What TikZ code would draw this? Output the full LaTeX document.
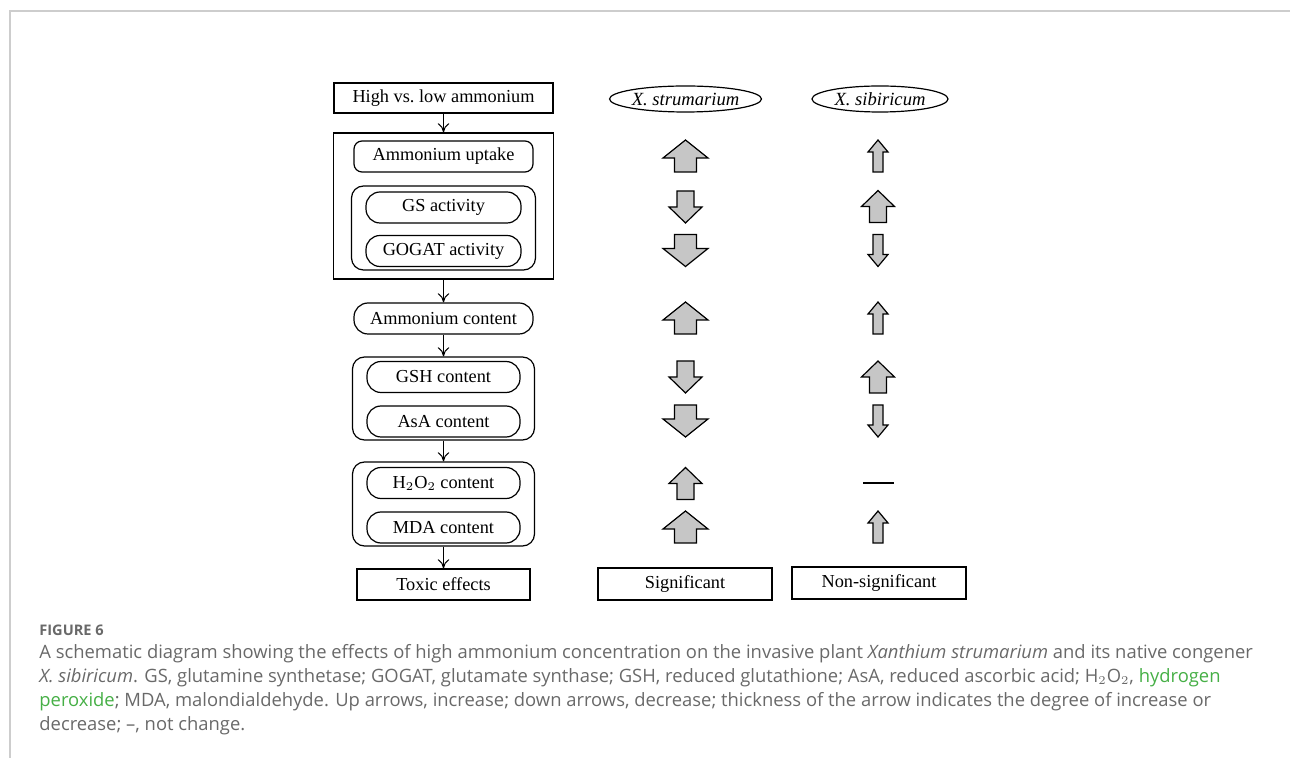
\documentclass[tikz,border=0pt]{standalone}
\usepackage{fontspec}
\setmainfont{Liberation Serif}
\newfontfamily\capfont{Open Sans}
\usepackage{xcolor}
\usetikzlibrary{arrows.meta,positioning,shapes.geometric}
\definecolor{capgray}{RGB}{105,105,105}
\definecolor{capgreen}{RGB}{70,175,70}
\definecolor{framegray}{RGB}{205,205,205}
% trend glyph: x, y centre, direction (1 up, -1 down), head half width, head length, shaft half width
\newcommand{\trend}[6]{%
  \draw[trend] (#1,{#2-#3*16}) -- ({#1+#4},{#2-#3*(16-#5)}) -- ({#1+#6},{#2-#3*(16-#5)})
    -- ({#1+#6},{#2+#3*16}) -- ({#1-#6},{#2+#3*16}) -- ({#1-#6},{#2-#3*(16-#5)})
    -- ({#1-#4},{#2-#3*(16-#5)}) -- cycle;}

\begin{document}
\begin{tikzpicture}[x=0.5pt,y=-0.5pt,
  font=\fontsize{9.15}{11}\selectfont,
  box/.style={draw,line width=0.6pt,inner sep=0pt},
  grp/.style={draw,line width=0.6pt,rounded corners=6pt,inner sep=0pt},
  oval/.style={draw,line width=0.6pt,rounded corners=7pt,inner sep=0pt,minimum width=77.5pt,minimum height=15.5pt},
  sp/.style={draw,ellipse,line width=0.6pt,inner sep=0pt,minimum height=13pt,font=\fontsize{9.3}{11}\selectfont\itshape},
  link/.style={-{To[length=1.6mm,width=2mm]},line width=0.5pt},
  trend/.style={draw,line width=0.6pt,fill=gray!45,line join=miter}]
\useasboundingbox (0,0) rectangle (1290,758);
\draw[framegray,line width=1pt] (10,758) -- (10,11) -- (1290,11);
% left flow
\node[box,minimum width=109.5pt,minimum height=15pt] (hvl) at (443.5,98) {High vs.\ low ammonium};
\node[box,minimum width=110pt,minimum height=73pt] (upgrp) at (443.5,206) {};
\node[box,rounded corners=4pt,minimum width=89.5pt,minimum height=15.5pt] (uptake) at (443.5,156.5) {Ammonium uptake};
\node[grp,minimum width=92pt,minimum height=42pt] (asgrp) at (443.5,228) {};
\node[oval] (gs) at (443.5,207.5) {GS activity};
\node[oval] (gogat) at (443.5,251) {GOGAT activity};
\node[oval,minimum width=89.5pt] (amc) at (443.5,318.5) {Ammonium content};
\node[grp,minimum width=91pt,minimum height=41.5pt] (aogrp) at (443.5,398.5) {};
\node[oval,minimum width=76.5pt] (gsh) at (443.5,377) {GSH content};
\node[oval,minimum width=76.5pt] (asa) at (443.5,421.5) {AsA content};
\node[grp,minimum width=91pt,minimum height=42pt] (rogrp) at (443.5,504) {};
\node[oval,minimum width=76.5pt] (hoo) at (443.5,483) {H$_2$O$_2$ content};
\node[oval,minimum width=76.5pt] (mda) at (443.5,527.5) {MDA content};
\node[box,minimum width=86.5pt,minimum height=15.5pt] (toxic) at (443.5,584.5) {Toxic effects};
\draw[link] (hvl) -- (upgrp);
\draw[link] (upgrp) -- (amc);
\draw[link] (amc) -- (aogrp);
\draw[link] (aogrp) -- (rogrp);
\draw[link] (rogrp) -- (toxic);
% species columns
\node[sp,minimum width=65.5pt] (strum) at (685.5,99) {X. strumarium};
\node[sp,minimum width=68pt] (sibir) at (880,99) {X. sibiricum};
\node[box,minimum width=87pt,minimum height=16pt] (sig) at (685,584) {Significant};
\node[box,minimum width=87pt,minimum height=16pt] (nsig) at (879,583) {Non-significant};
% X. strumarium
\trend{685.5}{156}{1}{22.5}{18}{11}
\trend{685.5}{207}{-1}{16.5}{16}{8.5}
\trend{685.5}{250.5}{-1}{22.5}{18}{11}
\trend{685.5}{318}{1}{22.5}{18}{11}
\trend{685.5}{377}{-1}{16.5}{16}{8.5}
\trend{685.5}{421}{-1}{22.5}{18}{11}
\trend{685.5}{483.5}{1}{16.5}{16}{8.5}
\trend{685.5}{527}{1}{22.5}{18}{11}
% X. sibiricum
\trend{878}{156}{1}{10}{12}{5}
\trend{878}{206.5}{1}{16.5}{16}{8.5}
\trend{878}{250.5}{-1}{10}{12}{5}
\trend{878}{318}{1}{10}{12}{5}
\trend{878}{377}{1}{16.5}{16}{8.5}
\trend{878}{421}{-1}{10}{12}{5}
\draw[line width=0.6pt] (863,483) -- (894,483);
\trend{878}{527}{1}{10}{12}{5}
% caption
\node[anchor=base west,font=\capfont\bfseries\fontsize{7.3}{9}\selectfont,text=capgray,inner sep=0pt] (fig) at (39,635) {FIGURE 6};
\node[anchor=north west,align=left,inner sep=0pt,text=capgray,
  font=\capfont\fontsize{9.2}{12}\selectfont] (cap) at (39,644)
  {A schematic diagram showing the effects of high ammonium concentration on the invasive plant \textit{Xanthium strumarium} and its native congener\\
  \textit{X. sibiricum}. GS, glutamine synthetase; GOGAT, glutamate synthase; GSH, reduced glutathione; AsA, reduced ascorbic acid; H$_2$O$_2$, \textcolor{capgreen}{hydrogen}\\
  \textcolor{capgreen}{peroxide}; MDA, malondialdehyde. Up arrows, increase; down arrows, decrease; thickness of the arrow indicates the degree of increase or\\
  decrease; –, not change.};
\end{tikzpicture}
\end{document}
